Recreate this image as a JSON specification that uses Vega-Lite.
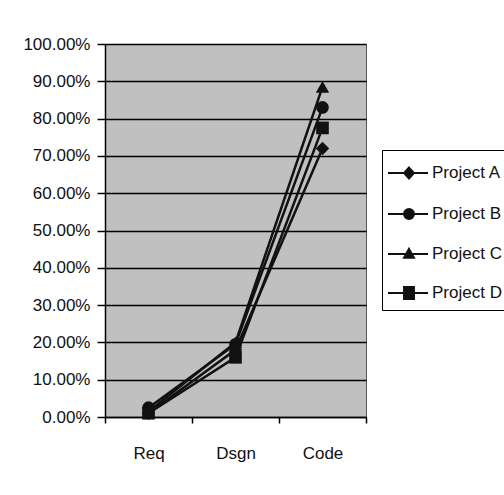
{
  "$schema": "https://vega.github.io/schema/vega-lite/v6.json",
  "autosize": {"type": "none"},
  "width": 261,
  "height": 373,
  "padding": {"left": 105, "top": 44, "right": 138, "bottom": 78},
  "background": "white",
  "config": {
    "font": "Liberation Sans",
    "view": {"fill": "#c0c0c0", "stroke": "#555555", "strokeWidth": 1},
    "axis": {
      "labelFont": "Liberation Sans",
      "labelFontSize": 17,
      "labelColor": "#111111",
      "domainColor": "#000000",
      "domainWidth": 1.5,
      "tickColor": "#000000",
      "tickWidth": 1.5,
      "title": null
    },
    "legend": {
      "labelFont": "Liberation Sans",
      "labelFontSize": 17,
      "labelColor": "#111111"
    }
  },
  "data": {
    "values": [
      {"phase": "Req", "project": "Project A", "share": 0.010},
      {"phase": "Dsgn", "project": "Project A", "share": 0.180},
      {"phase": "Code", "project": "Project A", "share": 0.720},
      {"phase": "Req", "project": "Project B", "share": 0.025},
      {"phase": "Dsgn", "project": "Project B", "share": 0.195},
      {"phase": "Code", "project": "Project B", "share": 0.830},
      {"phase": "Req", "project": "Project C", "share": 0.015},
      {"phase": "Dsgn", "project": "Project C", "share": 0.200},
      {"phase": "Code", "project": "Project C", "share": 0.885},
      {"phase": "Req", "project": "Project D", "share": 0.010},
      {"phase": "Dsgn", "project": "Project D", "share": 0.160},
      {"phase": "Code", "project": "Project D", "share": 0.775}
    ]
  },
  "encoding": {
    "x": {
      "field": "phase",
      "type": "nominal",
      "sort": ["Req", "Dsgn", "Code"],
      "scale": {"paddingInner": 0, "paddingOuter": 0},
      "axis": {
        "labelAngle": 0,
        "tickBand": "extent",
        "tickSize": 6,
        "labelPadding": 22,
        "grid": false
      }
    },
    "y": {
      "field": "share",
      "type": "quantitative",
      "scale": {"domain": [0, 1], "nice": false, "zero": true},
      "axis": {
        "format": ".2%",
        "values": [0, 0.1, 0.2, 0.3, 0.4, 0.5, 0.6, 0.7, 0.8, 0.9, 1],
        "tickSize": 8,
        "labelPadding": 7,
        "grid": true,
        "gridColor": "#000000",
        "gridWidth": 1.5,
        "gridOpacity": 1
      }
    }
  },
  "layer": [
    {
      "mark": {"type": "line", "color": "#111111", "strokeWidth": 2.5},
      "encoding": {"detail": {"field": "project"}}
    },
    {
      "transform": [{"filter": "datum.project === 'Project A'"}],
      "mark": {"type": "point", "shape": "diamond", "filled": true, "color": "#111111", "opacity": 1, "size": 180}
    },
    {
      "transform": [{"filter": "datum.project === 'Project B'"}],
      "mark": {"type": "point", "shape": "circle", "filled": true, "color": "#111111", "opacity": 1, "size": 160}
    },
    {
      "transform": [{"filter": "datum.project === 'Project C'"}],
      "mark": {"type": "point", "shape": "triangle-up", "filled": true, "color": "#111111", "opacity": 1, "size": 180}
    },
    {
      "transform": [{"filter": "datum.project === 'Project D'"}],
      "mark": {"type": "point", "shape": "square", "filled": true, "color": "#111111", "opacity": 1, "size": 160}
    },
    {
      "mark": {"type": "point", "filled": false, "color": "#111111", "strokeWidth": 2, "opacity": 0},
      "encoding": {
        "shape": {
          "field": "project",
          "type": "nominal",
          "scale": {
            "domain": ["Project A", "Project B", "Project C", "Project D"],
            "range": [
              "M-1.06,0H1.44M0.25,-0.34L0.56,0L0.25,0.34L-0.06,0ZM0.25,-0.204L0.436,0L0.25,0.204L0.064,0ZM0.25,-0.085L0.3275,0L0.25,0.085L0.1725,0Z",
              "M-1.06,0H1.44M-0.06,0A0.31,0.31 0 1,0 0.56,0A0.31,0.31 0 1,0 -0.06,0ZM0.05,0A0.2,0.2 0 1,0 0.45,0A0.2,0.2 0 1,0 0.05,0ZM0.16,0A0.09,0.09 0 1,0 0.34,0A0.09,0.09 0 1,0 0.16,0Z",
              "M-1.06,0H1.44M0.25,-0.32L0.56,0.24L-0.06,0.24ZM0.25,-0.152L0.4205,0.156L0.0795,0.156ZM0.25,-0.003L0.2965,0.081L0.2035,0.081Z",
              "M-1.06,0H1.44M-0.06,-0.38H0.56V0.38H-0.06ZM-0.06,-0.3H0.56M-0.06,-0.2H0.56M-0.06,-0.1H0.56M-0.06,0.1H0.56M-0.06,0.2H0.56M-0.06,0.3H0.56"
            ]
          },
          "legend": {
            "title": null,
            "orient": "none",
            "legendX": 277,
            "legendY": 106,
            "padding": 6,
            "strokeColor": "#000000",
            "fillColor": "#ffffff",
            "symbolSize": 1024,
            "symbolOpacity": 1,
            "symbolStrokeColor": "#111111",
            "symbolStrokeWidth": 2,
            "rowPadding": 14,
            "labelOffset": 10
          }
        }
      }
    }
  ]
}
